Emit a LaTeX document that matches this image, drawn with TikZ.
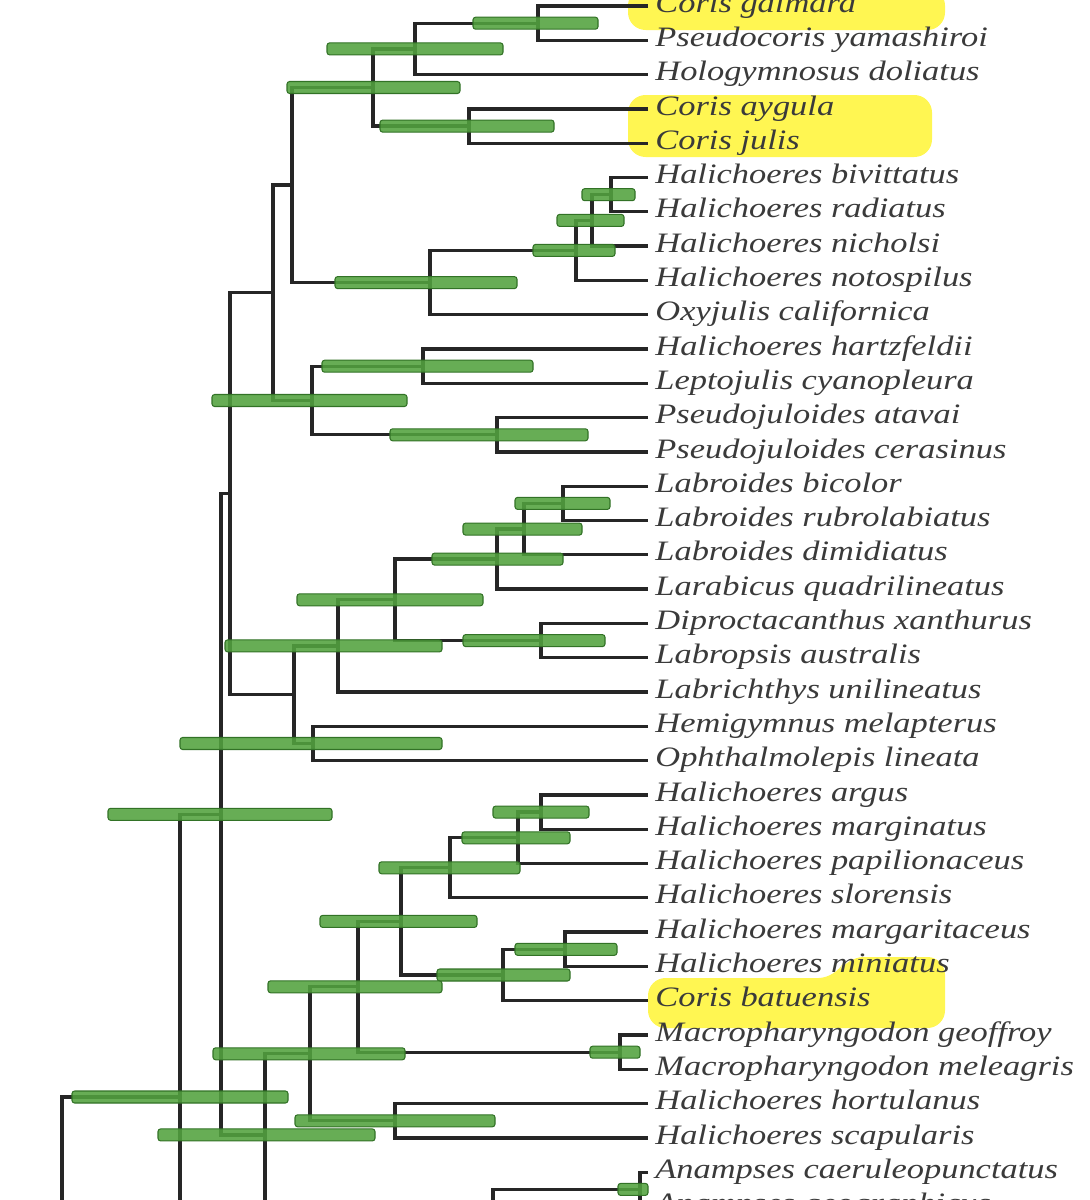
\documentclass[tikz,border=0pt]{standalone}
\usepackage{fontspec}
\newfontfamily\taxfont[FakeStretch=1.225]{Liberation Serif}
\usepackage{tikz}
\usetikzlibrary{calc}
\definecolor{branchgray}{RGB}{38,38,38}
\definecolor{hpdgreen}{RGB}{82,162,62}
\definecolor{hpdedge}{RGB}{50,114,38}
\definecolor{marker}{RGB}{255,246,82}
\definecolor{taxgray}{RGB}{58,58,58}
\tikzstyle{branch} = [draw=branchgray, line width=1.9pt, line join=miter]
\tikzstyle{hpd}    = [fill=hpdgreen, fill opacity=0.88, draw=hpdedge, line width=0.6pt, rounded corners=1.5pt]
\tikzstyle{taxon}  = [anchor=west, inner xsep=4pt, inner ysep=0pt, text height=10pt, text depth=3pt, text=taxgray, font=\taxfont\itshape\fontsize{16}{18}\selectfont]
\tikzstyle{coris}  = [fill=marker, rounded corners=10pt]

\begin{document}
\begin{tikzpicture}[x=0.02cm,y=-0.02cm]
		\useasboundingbox (0,0) rectangle (1089,1200);
		\clip (0,0) rectangle (1089,1200);

		\fill[coris] (628,-12) rectangle (945,30);
		\fill[coris] (628,95) rectangle (932,157);
		\fill[coris] (648,978) -- (836,978) -- (846,957) -- (945,957) -- (945,1028) -- (648,1028) -- cycle;

		\node[taxon] (t0) at (648,6) {Coris gaimard};
		\node[taxon] (t1) at (648,40.3) {Pseudocoris yamashiroi};
		\node[taxon] (t2) at (648,74.6) {Hologymnosus doliatus};
		\node[taxon] (t3) at (648,108.9) {Coris aygula};
		\node[taxon] (t4) at (648,143.2) {Coris julis};
		\node[taxon] (t5) at (648,177.5) {Halichoeres bivittatus};
		\node[taxon] (t6) at (648,211.8) {Halichoeres radiatus};
		\node[taxon] (t7) at (648,246.1) {Halichoeres nicholsi};
		\node[taxon] (t8) at (648,280.4) {Halichoeres notospilus};
		\node[taxon] (t9) at (648,314.7) {Oxyjulis californica};
		\node[taxon] (t10) at (648,349) {Halichoeres hartzfeldii};
		\node[taxon] (t11) at (648,383.3) {Leptojulis cyanopleura};
		\node[taxon] (t12) at (648,417.6) {Pseudojuloides atavai};
		\node[taxon] (t13) at (648,451.9) {Pseudojuloides cerasinus};
		\node[taxon] (t14) at (648,486.2) {Labroides bicolor};
		\node[taxon] (t15) at (648,520.5) {Labroides rubrolabiatus};
		\node[taxon] (t16) at (648,554.8) {Labroides dimidiatus};
		\node[taxon] (t17) at (648,589.1) {Larabicus quadrilineatus};
		\node[taxon] (t18) at (648,623.4) {Diproctacanthus xanthurus};
		\node[taxon] (t19) at (648,657.7) {Labropsis australis};
		\node[taxon] (t20) at (648,692) {Labrichthys unilineatus};
		\node[taxon] (t21) at (648,726.3) {Hemigymnus melapterus};
		\node[taxon] (t22) at (648,760.6) {Ophthalmolepis lineata};
		\node[taxon] (t23) at (648,794.9) {Halichoeres argus};
		\node[taxon] (t24) at (648,829.2) {Halichoeres marginatus};
		\node[taxon] (t25) at (648,863.5) {Halichoeres papilionaceus};
		\node[taxon] (t26) at (648,897.8) {Halichoeres slorensis};
		\node[taxon] (t27) at (648,932.1) {Halichoeres margaritaceus};
		\node[taxon] (t28) at (648,966.4) {Halichoeres miniatus};
		\node[taxon] (t29) at (648,1000.7) {Coris batuensis};
		\node[taxon] (t30) at (648,1035) {Macropharyngodon geoffroy};
		\node[taxon] (t31) at (648,1069.3) {Macropharyngodon meleagris};
		\node[taxon] (t32) at (648,1103.6) {Halichoeres hortulanus};
		\node[taxon] (t33) at (648,1137.9) {Halichoeres scapularis};
		\node[taxon] (t34) at (648,1172.2) {Anampses caeruleopunctatus};
		\node[taxon] (t35) at (648,1206.5) {Anampses geographicus};

		\coordinate (nA) at (538,23.2);
		\coordinate (nB) at (415,48.9);
		\coordinate (nC) at (469,126.1);
		\coordinate (nD) at (373,87.5);
		\coordinate (nH1) at (611,194.7);
		\coordinate (nH2) at (592,220.4);
		\coordinate (nH3) at (576,250.4);
		\coordinate (nF) at (430,282.6);
		\coordinate (nE) at (292,185);
		\coordinate (nK) at (423,366.2);
		\coordinate (nL) at (497,434.8);
		\coordinate (nJ) at (312,400.5);
		\coordinate (nI) at (273,292.7);
		\coordinate (nX) at (563,503.4);
		\coordinate (nW) at (524,529.1);
		\coordinate (nU) at (497,559.1);
		\coordinate (nV) at (541,640.6);
		\coordinate (nT) at (395,599.8);
		\coordinate (nR) at (338,645.9);
		\coordinate (nS) at (313,743.5);
		\coordinate (nQ) at (294,694.7);
		\coordinate (nN) at (230,493.7);
		\coordinate (nAH) at (541,812.1);
		\coordinate (nAG) at (518,837.8);
		\coordinate (nAE) at (450,867.8);
		\coordinate (nAI) at (565,949.3);
		\coordinate (nAF) at (503,975);
		\coordinate (nAD) at (401,921.4);
		\coordinate (nMac) at (620,1052.2);
		\coordinate (nAC) at (358,986.8);
		\coordinate (nAB) at (395,1120.8);
		\coordinate (nZ) at (310,1053.8);
		\coordinate (nAn) at (640,1189.4);
		\coordinate (nAO) at (493,1216);
		\coordinate (nOffA) at (560,1242.6);
		\coordinate (nY) at (265,1134.9);
		\coordinate (nO) at (221,814.3);
		\coordinate (nP) at (180,1097);
		\coordinate (nOffB) at (250,1379.7);
		\coordinate (nRoot) at (62,1320);

		\draw[branch] (t0.west) -| (nA) |- (t1.west);
		\draw[branch] (nA) -| (nB) |- (t2.west);
		\draw[branch] (t3.west) -| (nC) |- (t4.west);
		\draw[branch] (nB) -| (nD) |- (nC);
		\draw[branch] (t5.west) -| (nH1) |- (t6.west);
		\draw[branch] (nH1) -| (nH2) |- (t7.west);
		\draw[branch] (nH2) -| (nH3) |- (t8.west);
		\draw[branch] (nH3) -| (nF) |- (t9.west);
		\draw[branch] (nD) -| (nE) |- (nF);
		\draw[branch] (t10.west) -| (nK) |- (t11.west);
		\draw[branch] (t12.west) -| (nL) |- (t13.west);
		\draw[branch] (nK) -| (nJ) |- (nL);
		\draw[branch] (nE) -| (nI) |- (nJ);
		\draw[branch] (t14.west) -| (nX) |- (t15.west);
		\draw[branch] (nX) -| (nW) |- (t16.west);
		\draw[branch] (nW) -| (nU) |- (t17.west);
		\draw[branch] (t18.west) -| (nV) |- (t19.west);
		\draw[branch] (nU) -| (nT) |- (nV);
		\draw[branch] (nT) -| (nR) |- (t20.west);
		\draw[branch] (t21.west) -| (nS) |- (t22.west);
		\draw[branch] (nR) -| (nQ) |- (nS);
		\draw[branch] (nI) -| (nN) |- (nQ);
		\draw[branch] (t23.west) -| (nAH) |- (t24.west);
		\draw[branch] (nAH) -| (nAG) |- (t25.west);
		\draw[branch] (nAG) -| (nAE) |- (t26.west);
		\draw[branch] (t27.west) -| (nAI) |- (t28.west);
		\draw[branch] (nAI) -| (nAF) |- (t29.west);
		\draw[branch] (nAE) -| (nAD) |- (nAF);
		\draw[branch] (t30.west) -| (nMac) |- (t31.west);
		\draw[branch] (nAD) -| (nAC) |- (nMac);
		\draw[branch] (t32.west) -| (nAB) |- (t33.west);
		\draw[branch] (nAC) -| (nZ) |- (nAB);
		\draw[branch] (t34.west) -| (nAn) |- (t35.west);
		\draw[branch] (nAn) -| (nAO) |- (nOffA);
		\draw[branch] (nZ) -| (nY) |- (nAO);
		\draw[branch] (nN) -| (nO) |- (nY);
		\draw[branch] (nO) -| (nP) |- (nOffB);
		\draw[branch] (nRoot) |- (nP);

		\draw[hpd] (473,17.2) rectangle (598,29.2);
		\draw[hpd] (327,42.9) rectangle (503,54.9);
		\draw[hpd] (287,81.5) rectangle (460,93.5);
		\draw[hpd] (380,120.1) rectangle (554,132.1);
		\draw[hpd] (582,188.7) rectangle (635,200.7);
		\draw[hpd] (557,214.4) rectangle (624,226.4);
		\draw[hpd] (533,244.4) rectangle (615,256.4);
		\draw[hpd] (335,276.6) rectangle (517,288.6);
		\draw[hpd] (322,360.2) rectangle (533,372.2);
		\draw[hpd] (212,394.5) rectangle (407,406.5);
		\draw[hpd] (390,428.8) rectangle (588,440.8);
		\draw[hpd] (515,497.4) rectangle (610,509.4);
		\draw[hpd] (463,523.1) rectangle (582,535.1);
		\draw[hpd] (432,553.1) rectangle (563,565.1);
		\draw[hpd] (297,593.8) rectangle (483,605.8);
		\draw[hpd] (463,634.6) rectangle (605,646.6);
		\draw[hpd] (225,639.9) rectangle (442,651.9);
		\draw[hpd] (180,737.5) rectangle (442,749.5);
		\draw[hpd] (493,806.1) rectangle (589,818.1);
		\draw[hpd] (108,808.3) rectangle (332,820.3);
		\draw[hpd] (462,831.8) rectangle (570,843.8);
		\draw[hpd] (379,861.8) rectangle (520,873.8);
		\draw[hpd] (320,915.4) rectangle (477,927.4);
		\draw[hpd] (515,943.3) rectangle (617,955.3);
		\draw[hpd] (437,969) rectangle (570,981);
		\draw[hpd] (268,980.8) rectangle (442,992.8);
		\draw[hpd] (590,1046.2) rectangle (640,1058.2);
		\draw[hpd] (213,1047.8) rectangle (405,1059.8);
		\draw[hpd] (72,1091) rectangle (288,1103);
		\draw[hpd] (295,1114.8) rectangle (495,1126.8);
		\draw[hpd] (158,1128.9) rectangle (375,1140.9);
		\draw[hpd] (618,1183.4) rectangle (648,1195.4);
	\end{tikzpicture}
\end{document}
